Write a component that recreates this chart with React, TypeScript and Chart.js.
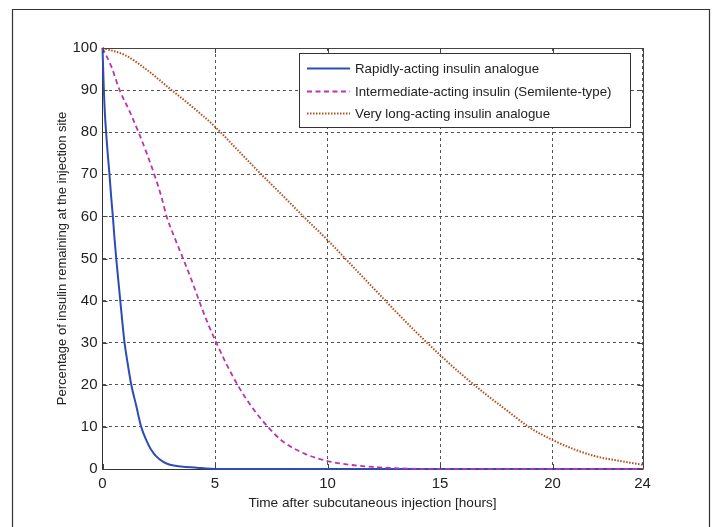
import React, { useEffect, useRef } from "react";
import { Chart, registerables } from "chart.js";

Chart.register(...registerables);

const seriesLabels = [
  "Rapidly-acting insulin analogue",
  "Intermediate-acting insulin (Semilente-type)",
  "Very long-acting insulin analogue",
];

const rapidTime = [0, 0.03, 0.06, 0.1, 0.16, 0.23, 0.31, 0.38, 0.46, 0.53, 0.61, 0.7, 0.79, 0.88, 0.98, 1.12, 1.28, 1.5, 1.72, 1.95, 2.15, 2.39, 2.7, 3.0, 3.5, 4.2, 4.6, 5, 24];
const rapidValues = [100, 95, 90, 85, 80, 75, 70, 65, 60, 55, 50, 45, 40, 35, 30, 25, 20, 15, 10, 6.8, 4.7, 3.0, 1.7, 1.0, 0.6, 0.3, 0.1, 0, 0];

const interTime = [0, 0.4, 0.76, 1.2, 1.6, 2.0, 2.3, 2.6, 2.85, 3.2, 3.58, 3.95, 4.29, 4.65, 5.06, 5.5, 6.0, 6.6, 7.35, 8, 9, 10, 11, 12, 13, 14, 24];
const interValues = [100, 95.5, 90, 85, 80, 74.5, 70, 65, 60, 55, 50, 45, 40, 35, 30, 25, 20, 15, 10, 6.6, 3.6, 1.9, 1.0, 0.5, 0.2, 0.05, 0];

const longTime = [0, 1, 2, 3, 4, 5, 6, 7, 8, 9, 10, 11, 12, 13, 14, 15, 16, 17, 18, 19, 20, 21, 22, 23, 24];
const longValues = [100, 98.3, 94.7, 90.3, 86, 81.3, 75.8, 70.3, 65, 59.6, 54.4, 48.8, 43.2, 37.6, 32.2, 27.1, 22.3, 17.9, 13.8, 9.8, 6.9, 4.6, 2.9, 1.9, 1.0];

const xTicks = [0, 5, 10, 15, 20, 24];
const yTicks = [0, 10, 20, 30, 40, 50, 60, 70, 80, 90, 100];

const xTitle = "Time after subcutaneous injection [hours]";
const yTitle = "Percentage of insulin remaining at the injection site";

const FONT = "'Liberation Sans', Arial, sans-serif";

const toPoints = (xs: number[], ys: number[]) => xs.map((x, i) => ({ x, y: ys[i] }));

export default function App() {
  const ref = useRef<HTMLCanvasElement | null>(null);

  useEffect(() => {
    if (!ref.current) return;

    const framePlugin = {
      id: "frame",
      beforeDraw(chart: any) {
        const ctx = chart.ctx;
        ctx.save();
        ctx.strokeStyle = "#333";
        ctx.lineWidth = 1.2;
        ctx.beginPath();
        ctx.moveTo(12.5, 540);
        ctx.lineTo(12.5, 9.5);
        ctx.lineTo(709.5, 9.5);
        ctx.lineTo(709.5, 540);
        ctx.stroke();
        ctx.restore();
      },
      afterDraw(chart: any) {
        const ctx = chart.ctx;
        const { left, right, top, bottom } = chart.chartArea;
        const xs = chart.scales.x;
        const ys = chart.scales.y;
        ctx.save();
        ctx.strokeStyle = "#444";
        ctx.lineWidth = 1;
        ctx.setLineDash([]);
        ctx.beginPath();
        ctx.moveTo(Math.round(left) + 0.5, Math.round(top) + 0.5);
        ctx.lineTo(Math.round(right) + 0.5, Math.round(top) + 0.5);
        ctx.lineTo(Math.round(right) + 0.5, Math.round(bottom) + 0.5);
        ctx.stroke();
        const tl = 5;
        ctx.beginPath();
        xTicks.forEach((t) => {
          const px = Math.round(xs.getPixelForValue(t)) + 0.5;
          ctx.moveTo(px, bottom);
          ctx.lineTo(px, bottom - tl);
          ctx.moveTo(px, top);
          ctx.lineTo(px, top + tl);
        });
        yTicks.forEach((t) => {
          const py = Math.round(ys.getPixelForValue(t)) + 0.5;
          ctx.moveTo(left, py);
          ctx.lineTo(left + tl, py);
          ctx.moveTo(right, py);
          ctx.lineTo(right - tl, py);
        });
        ctx.stroke();

        const lx = 299.5, ly = 53.5, lw = 331, lh = 74;
        ctx.fillStyle = "#fff";
        ctx.fillRect(lx, ly, lw, lh);
        ctx.strokeStyle = "#333";
        ctx.lineWidth = 1;
        ctx.strokeRect(lx, ly, lw, lh);
        const rows = [68, 91, 113];
        ctx.font = "13.3px " + FONT;
        ctx.textBaseline = "middle";
        ctx.textAlign = "left";
        chart.data.datasets.forEach((ds: any, i: number) => {
          const y = rows[i] + 0.5;
          ctx.save();
          ctx.strokeStyle = ds.borderColor;
          ctx.lineWidth = ds.borderWidth;
          ctx.setLineDash(ds.borderDash || []);
          ctx.beginPath();
          ctx.moveTo(307, y);
          ctx.lineTo(350, y);
          ctx.stroke();
          ctx.restore();
          ctx.fillStyle = "#222";
          ctx.fillText(ds.label, 355, rows[i] + 1);
        });
        ctx.restore();
      },
    };

    const chart = new Chart(ref.current, {
      type: "line",
      data: {
        datasets: [
          {
            label: seriesLabels[0],
            data: toPoints(rapidTime, rapidValues),
            borderColor: "#2e4cb6",
            borderWidth: 2,
            pointRadius: 0,
            cubicInterpolationMode: "monotone",
            order: 3,
            clip: false as any,
          },
          {
            label: seriesLabels[1],
            data: toPoints(interTime, interValues),
            borderColor: "#bb33b3",
            borderWidth: 1.8,
            borderDash: [5, 3.5],
            pointRadius: 0,
            cubicInterpolationMode: "monotone",
            order: 2,
            clip: false as any,
          },
          {
            label: seriesLabels[2],
            data: toPoints(longTime, longValues),
            borderColor: "#b4501e",
            borderWidth: 2,
            borderDash: [1.5, 1.5],
            pointRadius: 0,
            cubicInterpolationMode: "monotone",
            order: 1,
            clip: false as any,
          },
        ],
      },
      options: {
        responsive: false,
        animation: false,
        layout: { padding: { left: 0, top: 48, right: 70.5, bottom: 0 } },
        plugins: { legend: { display: false }, tooltip: { enabled: false } },
        scales: {
          x: {
            type: "linear",
            min: 0,
            max: 24,
            afterBuildTicks: (s: any) => {
              s.ticks = xTicks.map((v) => ({ value: v }));
            },
            afterFit: (s: any) => {
              s.height = 58;
            },
            grid: { color: "#555", lineWidth: 1, drawTicks: false },
            border: { color: "#333", width: 1, dash: [3, 3] },
            ticks: { padding: 6, color: "#222", font: { family: FONT, size: 15 }, maxRotation: 0 },
            title: {
              display: true,
              text: xTitle,
              color: "#222",
              font: { family: FONT, size: 13.6 },
              padding: { top: 0, bottom: 16 },
            },
          },
          y: {
            type: "linear",
            min: 0,
            max: 100,
            afterBuildTicks: (s: any) => {
              s.ticks = yTicks.map((v) => ({ value: v }));
            },
            afterFit: (s: any) => {
              s.width = 102.5;
            },
            grid: { color: "#555", lineWidth: 1, drawTicks: false },
            border: { color: "#333", width: 1, dash: [3, 3] },
            ticks: { padding: 5, color: "#222", font: { family: FONT, size: 15 } },
            title: {
              display: true,
              text: yTitle,
              color: "#222",
              font: { family: FONT, size: 13 },
              padding: { top: 55, bottom: 0 },
            },
          },
        },
      },
      plugins: [framePlugin],
    });

    return () => chart.destroy();
  }, []);

  return (
    <div style={{ position: "absolute", left: 0, top: 0, width: 713, height: 527, background: "#fff" }}>
      <canvas ref={ref} width={713} height={527} style={{ display: "block" }} />
    </div>
  );
}
